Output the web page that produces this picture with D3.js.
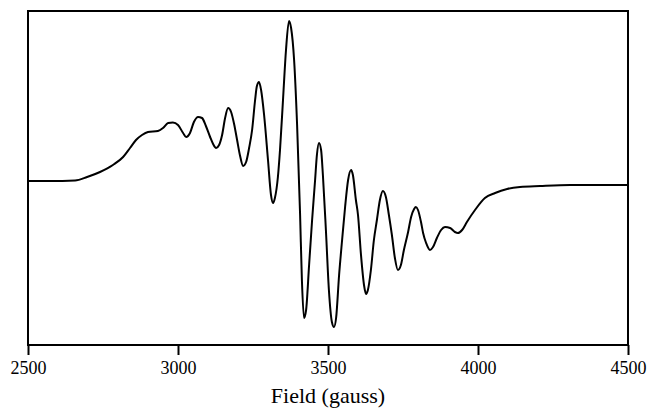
<!DOCTYPE html>
<html>
<head>
<meta charset="utf-8">
<script src="https://cdn.jsdelivr.net/npm/d3@7"></script>
<style>
  body { margin: 0; background: #fff; }
  text { font-family: "Liberation Serif", "Times New Roman", serif; fill: #000; }
</style>
</head>
<body>
<div id="chart"></div>
<script>
// field values (gauss)
const field = [2500, 2573, 2657, 2697, 2740, 2783, 2817, 2840, 2860, 2880, 2900, 2933, 2950, 2967, 2983,
  3000, 3017, 3027, 3040, 3053, 3067, 3080, 3093, 3107, 3117, 3127, 3137, 3147, 3157, 3167, 3177, 3187,
  3197, 3207, 3217, 3227, 3237, 3247, 3257, 3263, 3270, 3277, 3287, 3300, 3310, 3317, 3323, 3333, 3340,
  3350, 3360, 3370, 3377, 3387, 3397, 3407, 3413, 3420, 3427, 3437, 3447, 3457, 3463, 3470, 3477, 3483,
  3493, 3503, 3513, 3520, 3527, 3537, 3547, 3557, 3567, 3577, 3583, 3593, 3600, 3610, 3620, 3627, 3633,
  3643, 3653, 3663, 3673, 3683, 3693, 3703, 3713, 3723, 3733, 3743, 3753, 3767, 3777, 3787, 3793, 3800,
  3810, 3817, 3827, 3840, 3850, 3863, 3877, 3890, 3907, 3923, 3933, 3947, 3963, 3990, 4023, 4057, 4097,
  4140, 4207, 4307, 4407, 4500];

// derivative signal, arbitrary units
const signal = [-3, -3, -2.5, 1, 6, 13, 21, 30, 38, 43, 46, 47, 50, 55, 55.5,
  53, 45, 41, 45, 56, 61, 60, 52, 41, 34, 30, 33, 43, 60, 70, 66, 54,
  38, 22, 12, 16, 30, 48, 78, 92, 96, 88, 63, 18, -17, -25, -20, 1, 28,
  78, 128, 157, 150, 118, 53, -37, -102, -140, -132, -87, -42, -2, 23, 35, 28, 3,
  -52, -112, -144, -149, -140, -97, -62, -29, -2, 8, 3, -22, -37, -77, -107, -116, -112,
  -92, -62, -42, -22, -13, -19, -37, -57, -80, -92, -87, -72, -54, -39, -31, -29,
  -32, -44, -55, -65, -72, -69, -60, -52, -49, -50, -54, -55, -52, -44, -32, -20, -15,
  -11, -9, -8, -7, -7, -7];

const xTicks = [2500, 3000, 3500, 4000, 4500];

const margin = {top: 11, right: 21, bottom: 65, left: 28},
    width = 649 - margin.left - margin.right,
    height = 410 - margin.top - margin.bottom;

const svg = d3.select("#chart")
  .append("svg")
    .attr("width", 649)
    .attr("height", 410)
  .append("g")
    .attr("transform", `translate(${margin.left},${margin.top})`);

const x = d3.scaleLinear().domain([2500, 4500]).range([0, width]);
const y = d3.scaleLinear().domain([-167, 167]).range([height, 0]);

const data = field.map((f, i) => ({f: f, v: signal[i]}));

// trace
svg.append("path")
  .datum(data)
  .attr("fill", "none")
  .attr("stroke", "#000")
  .attr("stroke-width", 2)
  .attr("stroke-linejoin", "round")
  .attr("d", d3.line()
    .x(d => x(d.f))
    .y(d => y(d.v))
    .curve(d3.curveMonotoneX));

// frame
svg.append("rect")
  .attr("x", 0).attr("y", 0)
  .attr("width", width).attr("height", height)
  .attr("fill", "none")
  .attr("stroke", "#000")
  .attr("stroke-width", 2);

// bottom axis
const xAxis = svg.append("g")
  .attr("transform", `translate(0,${height})`)
  .call(d3.axisBottom(x).tickValues(xTicks).tickFormat(d3.format("d")).tickSize(10).tickPadding(6));

xAxis.select(".domain").remove();
xAxis.selectAll("line").attr("stroke", "#000").attr("stroke-width", 2);
xAxis.selectAll("text")
  .style("font-family", '"Liberation Serif", "Times New Roman", serif')
  .style("font-size", "18px")
  .attr("fill", "#000");

svg.append("text")
  .attr("x", width / 2)
  .attr("y", height + 58)
  .attr("text-anchor", "middle")
  .style("font-size", "22px")
  .text("Field (gauss)");
</script>
</body>
</html>
